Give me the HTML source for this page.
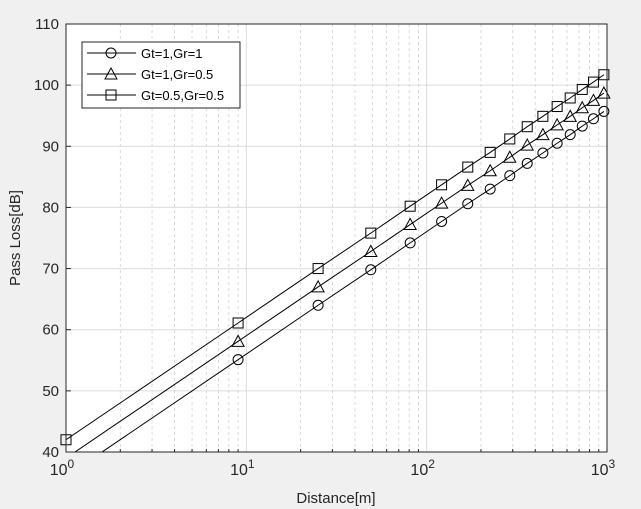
<!DOCTYPE html>
<html><head><meta charset="utf-8"><style>
html,body{margin:0;padding:0;background:#f0f0f0;}
svg{display:block;font-family:"Liberation Sans",Arial,sans-serif;}
</style></head><body>
<svg id="chart" width="641" height="509" viewBox="0 0 641 509" xmlns="http://www.w3.org/2000/svg">
<defs><clipPath id="pc"><rect x="66" y="24" width="541" height="428"/></clipPath></defs>
<rect x="66" y="24" width="541" height="428" fill="#fff"/>
<g id="grid"></g>
<g id="series"></g>
<rect x="66" y="24" width="541" height="428" fill="none" stroke="#262626" stroke-width="1"/>
<g id="ticks"></g>
<text x="336" y="503" text-anchor="middle" font-size="15" fill="#262626">Distance[m]</text>
<text transform="translate(20,238) rotate(-90)" text-anchor="middle" font-size="15" fill="#262626">Pass Loss[dB]</text>
<g id="legend">
<rect x="82" y="42" width="158" height="66" fill="#fff" stroke="#262626" stroke-width="1"/>
</g>
</svg>
<script>
const distances=[1,9,25,49,81,121,169,225,289,361,441,529,625,729,841,961];
const lossG11=[36.0,55.1,64.0,69.8,74.2,77.7,80.6,83.0,85.2,87.2,88.9,90.5,91.9,93.3,94.5,95.7];
const lossG105=[39.0,58.1,67.0,72.8,77.2,80.7,83.6,86.0,88.2,90.2,91.9,93.5,94.9,96.3,97.5,98.7];
const lossG0505=[42.0,61.1,70.0,75.8,80.2,83.7,86.6,89.0,91.2,93.2,94.9,96.5,97.9,99.3,100.5,101.7];
const seriesNames=["Gt=1,Gr=1","Gt=1,Gr=0.5","Gt=0.5,Gr=0.5"];
const yTicks=[40,50,60,70,80,90,100,110];
const xDecades=[0,1,2,3];

const NS="http://www.w3.org/2000/svg";
const L=66,R=607,T=24,B=452;
function xs(d){return L+(Math.log10(d)-0)/3*(R-L);}
function ys(v){return B-(v-40)/70*(B-T);}
function mk(tag,attrs,parent){const e=document.createElementNS(NS,tag);for(const k in attrs)e.setAttribute(k,attrs[k]);parent.appendChild(e);return e;}
const grid=document.getElementById('grid'),ticks=document.getElementById('ticks'),ser=document.getElementById('series'),leg=document.getElementById('legend');

for(let dec=0;dec<3;dec++){for(let m=2;m<=9;m++){const x=xs(m*Math.pow(10,dec));
const g=mk('line',{x1:x,x2:x,y1:T,y2:B,stroke:'#d0d0d0','stroke-dasharray':'3,3','stroke-width':0.8},grid);


const t1=mk('line',{x1:x,x2:x,y1:B,y2:B-3,stroke:'#262626'},ticks);

}}
xDecades.forEach(p=>{const x=xs(Math.pow(10,p));
const g=mk('line',{x1:x,x2:x,y1:T,y2:B,stroke:'#dcdcdc','stroke-width':1},grid);


const t=mk('text',{x:x-4,y:475,'text-anchor':'middle','font-size':16,fill:'#262626'},ticks);


t.textContent='10';
const s=mk('tspan',{dy:-7,'font-size':12},t);s.textContent=String(p);});
yTicks.forEach(v=>{const y=ys(v);
const g=mk('line',{x1:L,x2:R,y1:y,y2:y,stroke:'#dcdcdc','stroke-width':1},grid);


const tk=mk('line',{x1:L,x2:L+5,y1:y,y2:y,stroke:'#262626'},ticks);


const t=mk('text',{x:L-7,y:y+5,'text-anchor':'end','font-size':15,fill:'#262626'},ticks);


t.textContent=String(v);});

function marker(type,x,y,parent){let e;
if(type==='o')e=mk('circle',{cx:x,cy:y,r:5,fill:'none',stroke:'#000','stroke-width':1},parent);
else if(type==='^')e=mk('polygon',{points:`${x},${y-6} ${x-6},${y+5} ${x+6},${y+5}`,fill:'none',stroke:'#000','stroke-width':1},parent);
else e=mk('rect',{x:x-5,y:y-5,width:10,height:10,fill:'none',stroke:'#000','stroke-width':1},parent);
return e;}
const allSeries=[lossG11,lossG105,lossG0505],types=['o','^','s'],ids=['g11','g105','g0505'];
allSeries.forEach((vals,i)=>{
const g=mk('g',{},ser);


const pts=distances.map((d,j)=>xs(d)+','+ys(vals[j])).join(' ');
const pl=mk('polyline',{points:pts,fill:'none',stroke:'#000','stroke-width':1,'clip-path':'url(#pc)'},g);


distances.forEach((d,j)=>{if(vals[j]<40||vals[j]>110)return;
const m=marker(types[i],xs(d),ys(vals[j]),g);

});
});
seriesNames.forEach((n,i)=>{const y=53+i*21;
const g=mk('g',{},leg);


mk('line',{x1:87,x2:136,y1:y,y2:y,stroke:'#000','stroke-width':1},g);
marker(types[i],111,y,g);
const t=mk('text',{x:141,y:y+5,'font-size':13,fill:'#000'},g);
t.textContent=n;});
</script>
</body></html>
